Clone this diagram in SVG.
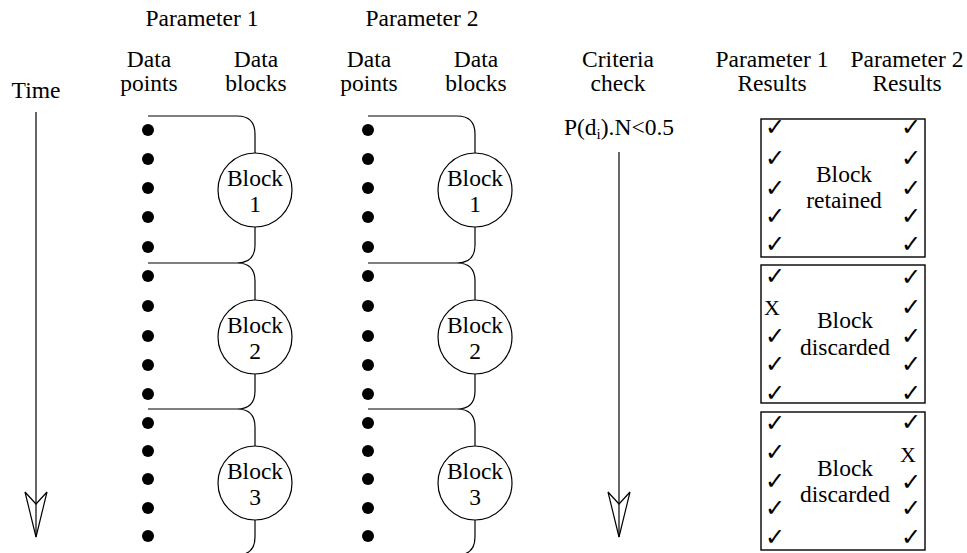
<svg xmlns="http://www.w3.org/2000/svg" width="967" height="553" viewBox="0 0 967 553">
<style>
text{font-family:"Liberation Serif","Times New Roman",serif;font-size:23.5px;fill:#000;text-anchor:middle}
.ln{fill:none;stroke:#000;stroke-width:1.2}
.dot{fill:#000}
.blk{fill:#fff;stroke:#000;stroke-width:1.2}
.box{fill:#fff;stroke:#000;stroke-width:1.4}
.ck{font-family:"DejaVu Sans",sans-serif;font-size:24px;font-weight:bold}
.x{font-size:22px}
</style>
<defs>
<marker id="fletch" markerUnits="userSpaceOnUse" markerWidth="48" markerHeight="26" viewBox="-1 -1 48 26" refX="45" refY="12" orient="auto" overflow="visible">
<path d="M0,1 L12,12 L0,23 L45,12 Z" fill="none" stroke="#000" stroke-width="1.2"/>
</marker>
<circle id="d" r="6" class="dot"/>
</defs>

<g id="headers">
<text x="202" y="26">Parameter 1</text>
<text x="422" y="26">Parameter 2</text>
<text x="36" y="98">Time</text>
<text x="149" y="67">Data</text><text x="149" y="91">points</text>
<text x="256" y="67">Data</text><text x="256" y="91">blocks</text>
<text x="369" y="67">Data</text><text x="369" y="91">points</text>
<text x="476" y="67">Data</text><text x="476" y="91">blocks</text>
<text x="618" y="67">Criteria</text><text x="618" y="91">check</text>
<text x="772" y="67">Parameter 1</text><text x="772" y="91">Results</text>
<text x="907" y="67">Parameter 2</text><text x="907" y="91">Results</text>
<text x="619" y="135">P(d<tspan font-size="15" dy="4">i</tspan><tspan dy="-4">).N&lt;0.5</tspan></text>
</g>

<g id="connectors">
<line class="ln" x1="36" y1="112" x2="36" y2="537" marker-end="url(#fletch)"/>
<line class="ln" x1="619" y1="152" x2="619" y2="537" marker-end="url(#fletch)"/>
<path class="ln" d="M148,116 H237 Q255,116 255,134 V153 M255,227 V245 Q255,263 237,263 Q255,263 255,281 V300 M148,263 H237 M255,374 V391 Q255,409 237,409 Q255,409 255,427 V446 M148,409 H237 M255,520 V537 Q255,555 237,555"/>
<path class="ln" d="M368,116 H457 Q475,116 475,134 V153 M475,227 V245 Q475,263 457,263 Q475,263 475,281 V300 M368,263 H457 M475,374 V391 Q475,409 457,409 Q475,409 475,427 V446 M368,409 H457 M475,520 V537 Q475,555 457,555"/>
</g>

<g id="points1">
<use href="#d" x="148" y="130"/><use href="#d" x="148" y="159"/><use href="#d" x="148" y="188"/><use href="#d" x="148" y="217"/><use href="#d" x="148" y="247"/>
<use href="#d" x="148" y="276"/><use href="#d" x="148" y="306"/><use href="#d" x="148" y="336"/><use href="#d" x="148" y="365"/><use href="#d" x="148" y="394"/>
<use href="#d" x="148" y="423"/><use href="#d" x="148" y="451"/><use href="#d" x="148" y="479"/><use href="#d" x="148" y="508"/><use href="#d" x="148" y="536"/>
</g>
<g id="points2">
<use href="#d" x="368" y="130"/><use href="#d" x="368" y="159"/><use href="#d" x="368" y="188"/><use href="#d" x="368" y="217"/><use href="#d" x="368" y="247"/>
<use href="#d" x="368" y="276"/><use href="#d" x="368" y="306"/><use href="#d" x="368" y="336"/><use href="#d" x="368" y="365"/><use href="#d" x="368" y="394"/>
<use href="#d" x="368" y="423"/><use href="#d" x="368" y="451"/><use href="#d" x="368" y="479"/><use href="#d" x="368" y="508"/><use href="#d" x="368" y="536"/>
</g>

<g id="p1block1"><circle class="blk" cx="255" cy="190" r="37"/><text x="255" y="186">Block</text><text x="255" y="212">1</text></g>
<g id="p1block2"><circle class="blk" cx="255" cy="337" r="37"/><text x="255" y="333">Block</text><text x="255" y="359">2</text></g>
<g id="p1block3"><circle class="blk" cx="255" cy="483" r="37"/><text x="255" y="479">Block</text><text x="255" y="505">3</text></g>
<g id="p2block1"><circle class="blk" cx="475" cy="190" r="37"/><text x="475" y="186">Block</text><text x="475" y="212">1</text></g>
<g id="p2block2"><circle class="blk" cx="475" cy="337" r="37"/><text x="475" y="333">Block</text><text x="475" y="359">2</text></g>
<g id="p2block3"><circle class="blk" cx="475" cy="483" r="37"/><text x="475" y="479">Block</text><text x="475" y="505">3</text></g>

<g id="result1">
<rect class="box" x="761" y="119" width="164" height="138"/>
<text x="844" y="182">Block</text><text x="844" y="208">retained</text>
<text class="ck" x="775" y="135">✓</text><text class="ck" x="775" y="166">✓</text><text class="ck" x="775" y="196">✓</text><text class="ck" x="775" y="224">✓</text><text class="ck" x="775" y="252">✓</text>
<text class="ck" x="911" y="135">✓</text><text class="ck" x="911" y="166">✓</text><text class="ck" x="911" y="196">✓</text><text class="ck" x="911" y="224">✓</text><text class="ck" x="911" y="252">✓</text>
</g>
<g id="result2">
<rect class="box" x="761" y="265" width="164" height="138"/>
<text x="845" y="328">Block</text><text x="845" y="355">discarded</text>
<text class="ck" x="775" y="284">✓</text><text class="x" x="772" y="315">X</text><text class="ck" x="775" y="344">✓</text><text class="ck" x="775" y="372">✓</text><text class="ck" x="775" y="401">✓</text>
<text class="ck" x="911" y="285">✓</text><text class="ck" x="911" y="315">✓</text><text class="ck" x="911" y="344">✓</text><text class="ck" x="911" y="372">✓</text><text class="ck" x="911" y="401">✓</text>
</g>
<g id="result3">
<rect class="box" x="761" y="412" width="164" height="138"/>
<text x="845" y="476">Block</text><text x="845" y="502">discarded</text>
<text class="ck" x="775" y="431">✓</text><text class="ck" x="775" y="460">✓</text><text class="ck" x="775" y="489">✓</text><text class="ck" x="775" y="516">✓</text><text class="ck" x="775" y="545">✓</text>
<text class="ck" x="911" y="430">✓</text><text class="x" x="908" y="462">X</text><text class="ck" x="911" y="490">✓</text><text class="ck" x="911" y="516">✓</text><text class="ck" x="911" y="545">✓</text>
</g>
</svg>
